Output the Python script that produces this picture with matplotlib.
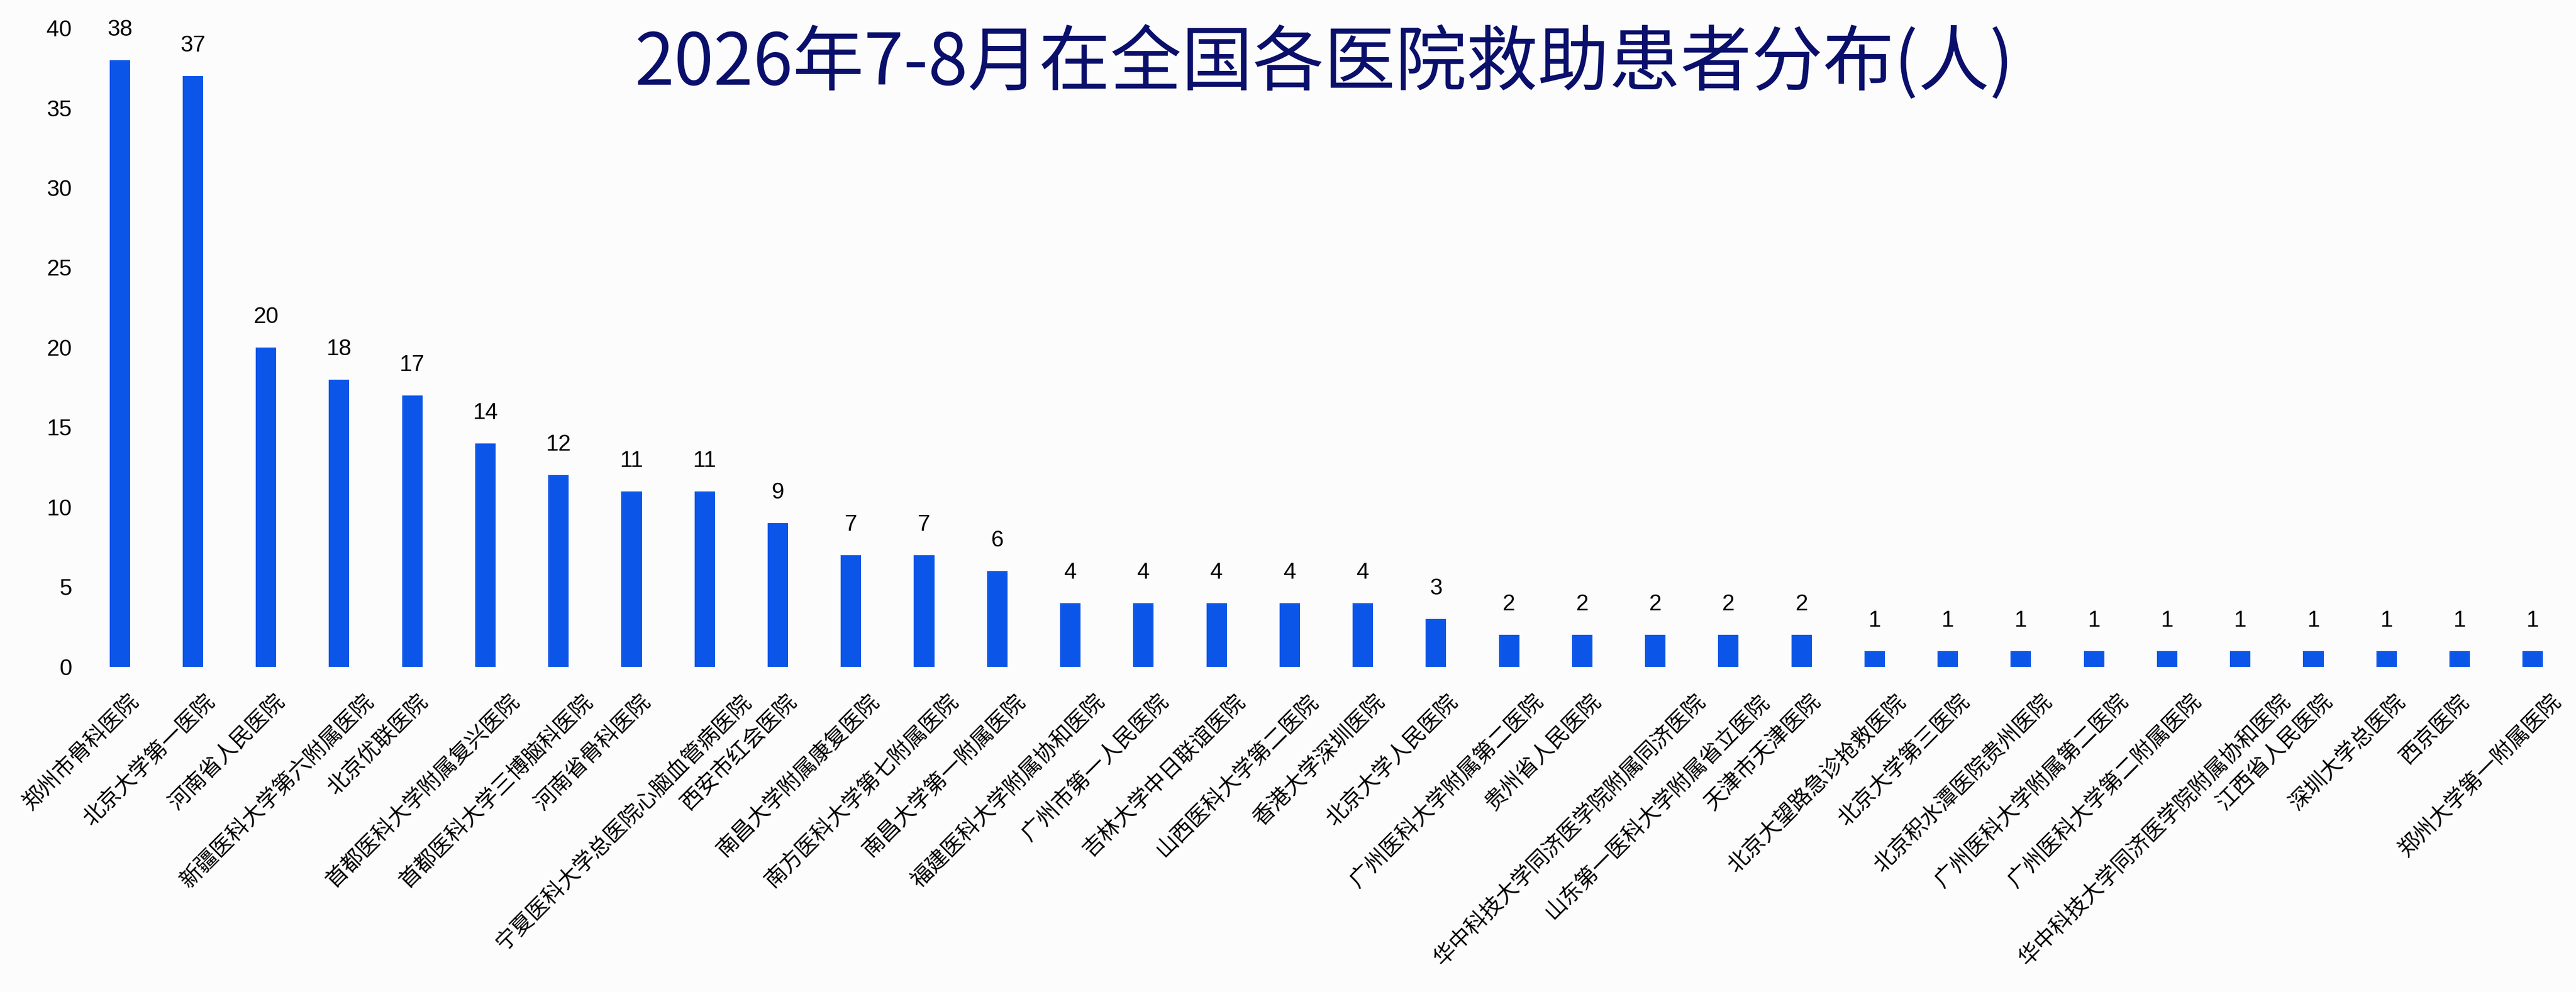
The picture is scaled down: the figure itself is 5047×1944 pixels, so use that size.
import matplotlib
matplotlib.use("Agg")
import matplotlib.pyplot as plt

hospitals = [
    "郑州市骨科医院", "北京大学第一医院", "河南省人民医院", "新疆医科大学第六附属医院",
    "北京优联医院", "首都医科大学附属复兴医院", "首都医科大学三博脑科医院", "河南省骨科医院",
    "宁夏医科大学总医院心脑血管病医院", "西安市红会医院", "南昌大学附属康复医院",
    "南方医科大学第七附属医院", "南昌大学第一附属医院", "福建医科大学附属协和医院",
    "广州市第一人民医院", "吉林大学中日联谊医院", "山西医科大学第二医院", "香港大学深圳医院",
    "北京大学人民医院", "广州医科大学附属第二医院", "贵州省人民医院",
    "华中科技大学同济医学院附属同济医院", "山东第一医科大学附属省立医院", "天津市天津医院",
    "北京大望路急诊抢救医院", "北京大学第三医院", "北京积水潭医院贵州医院",
    "广州医科大学附属第二医院", "广州医科大学第二附属医院",
    "华中科技大学同济医学院附属协和医院", "江西省人民医院", "深圳大学总医院", "西京医院",
    "郑州大学第一附属医院",
]
patients = [38, 37, 20, 18, 17, 14, 12, 11, 11, 9, 7, 7, 6, 4, 4, 4, 4, 4, 3,
            2, 2, 2, 2, 2, 1, 1, 1, 1, 1, 1, 1, 1, 1, 1]

title = "2026年7-8月在全国各医院救助患者分布(人)"

plt.rcParams["font.family"] = ["Noto Sans CJK SC", "DejaVu Sans"]
num_font = ["Liberation Sans Narrow", "Liberation Sans", "DejaVu Sans"]

fig = plt.figure(figsize=(50.47, 19.44), dpi=100, facecolor="#FCFCFC")
ax = fig.add_axes([0.0323, 0.3277, 0.9651, 0.644])
ax.set_facecolor("#FCFCFC")

x = list(range(len(patients)))
bars = ax.bar(x, patients, width=0.28, color="#0B56E8")

for b, v in zip(bars, patients):
    ax.annotate(str(v), xy=(b.get_x() + b.get_width() / 2, v), xytext=(0, 28),
                textcoords="offset points", ha="center", va="bottom",
                fontsize=32, family=num_font, color="black")

ax.set_xlim(-0.5, len(patients) - 0.5)
ax.set_ylim(0, 40)
ax.set_yticks(range(0, 41, 5))
ax.set_yticklabels([str(t) for t in range(0, 41, 5)], family=num_font, fontsize=32)
ax.set_xticks(x)
ax.set_xticklabels([])
ax.tick_params(axis="both", length=0)
ax.tick_params(axis="y", pad=16)
for s in ax.spines.values():
    s.set_visible(False)

# category labels, rotated; longer names sit a little further right, as in the original
for i, name in enumerate(hospitals):
    shift = 0.72 * (6.1 * len(name) - 17)
    ax.annotate(name, xy=(i, 0), xytext=(shift - 8, -33), textcoords="offset points",
                rotation=45, ha="right", va="top", rotation_mode="anchor",
                fontsize=31, color="black", annotation_clip=False)

fig.text(0.514, 0.936, title, ha="center", va="center", fontsize=100.5, color="#0A0F6B")

fig.savefig("out.png", dpi=100, facecolor=fig.get_facecolor())
